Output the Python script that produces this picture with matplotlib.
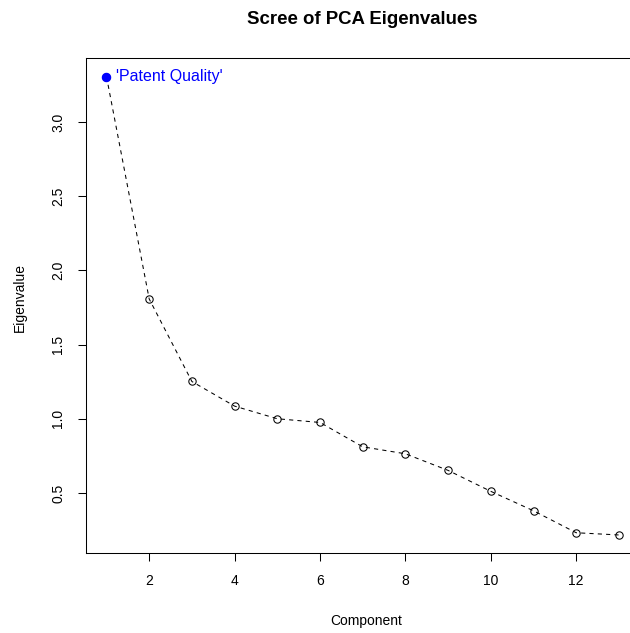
import matplotlib
matplotlib.use("Agg")
import matplotlib.pyplot as plt

plt.rcParams["font.family"] = ["Liberation Sans", "DejaVu Sans"]

# Eigenvalues
components = list(range(1, 14))
eigenvalues = [3.305, 1.807, 1.251, 1.085, 1.000, 0.975, 0.811,
               0.764, 0.652, 0.511, 0.380, 0.232, 0.217]
highlight_label = "'Patent Quality'"
y_ticks = [0.5, 1.0, 1.5, 2.0, 2.5, 3.0]
x_ticks = [2, 4, 6, 8, 10, 12]

W, H = 630, 633
fig = plt.figure(figsize=(W / 100, H / 100), dpi=100)

# plot region (the right edge runs past the image, as in the reference)
left, right, top, bottom = 86, 639.4, 58.3, 553.3
ax = fig.add_axes([left / W, 1 - bottom / H, (right - left) / W, (bottom - top) / H])

ax.plot(components, eigenvalues, color="black", lw=0.75,
        linestyle=(0, (4, 4)), marker="o", markersize=5.3,
        markerfacecolor="none", markeredgecolor="black", markeredgewidth=0.75)
# first component highlighted in blue
ax.plot(components[0], eigenvalues[0], "o", color="blue", markersize=5.8, zorder=3)
ax.annotate(highlight_label, (components[0], eigenvalues[0]),
            xytext=(6.5, 0), textcoords="offset points", color="blue",
            fontsize=11.5, va="center", ha="left")

ax.set_xlim(0.52, 13.48)
ax.set_ylim(0.0935, 3.4285)
ax.set_xticks(x_ticks)
ax.set_yticks(y_ticks)
ax.set_yticklabels([f"{v:.1f}" for v in y_ticks], rotation=90, va="center")
ax.tick_params(axis="both", direction="out", length=6, width=0.75, labelsize=10)
ax.tick_params(axis="x", pad=9)
ax.tick_params(axis="y", pad=9)
for s in ax.spines.values():
    s.set_linewidth(0.75)

fig.text(362 / W, 1 - 20 / H, "Scree of PCA Eigenvalues", ha="center", va="center",
         fontsize=13.4, fontweight="bold")
fig.text(366 / W, 1 - 621 / H, "Component", ha="center", va="center", fontsize=10)
fig.text(20 / W, 1 - 297 / H, "Eigenvalue", ha="center", va="center",
         fontsize=10, rotation=90)

fig.savefig("out.png", dpi=100)
